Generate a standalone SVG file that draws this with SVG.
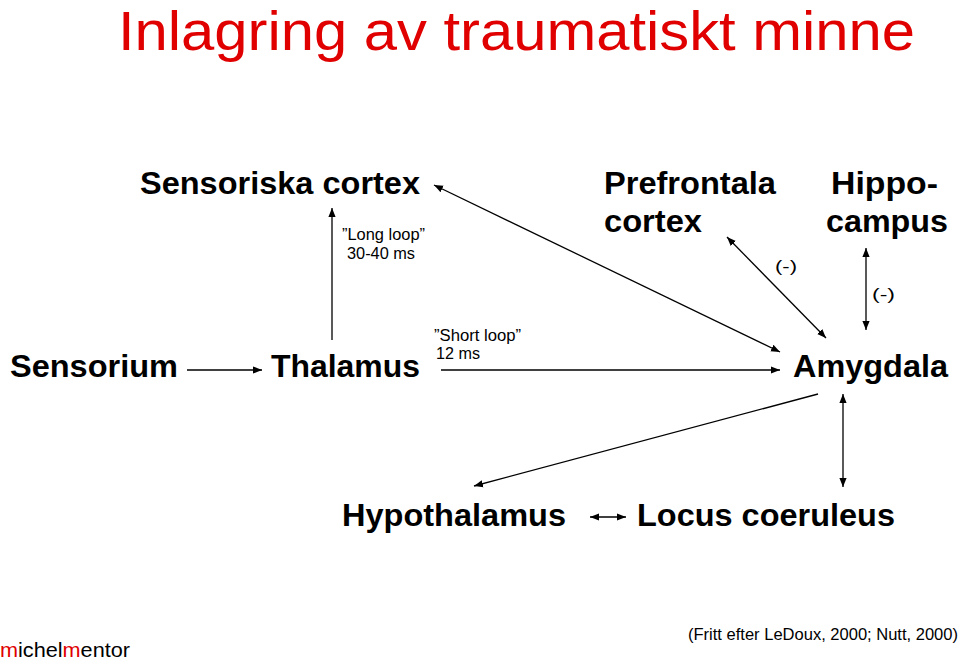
<svg xmlns="http://www.w3.org/2000/svg" width="960" height="660" viewBox="0 0 960 660">
<style>
text{font-family:"Liberation Sans",Arial,sans-serif;fill:#000}
.n{font-size:31px;font-weight:bold}
.s{font-size:16px}
.c line{stroke:#000;stroke-width:1.3}
</style>
<defs>
<marker id="a" viewBox="0 0 10 10" refX="10" refY="5" markerWidth="9" markerHeight="9" orient="auto-start-reverse" markerUnits="userSpaceOnUse"><path d="M0,1 L10,5 L0,9z" fill="#000"/></marker>
</defs>
<rect width="960" height="660" fill="#fff"/>
<text x="118" y="50" font-size="56" textLength="797" lengthAdjust="spacingAndGlyphs" style="fill:#e00000">Inlagring av traumatiskt minne</text>
<g id="sensoriska"><text class="n" x="140" y="194" textLength="280" lengthAdjust="spacingAndGlyphs">Sensoriska cortex</text></g>
<g id="prefrontala"><text class="n" x="604" y="194" textLength="172" lengthAdjust="spacingAndGlyphs">Prefrontala</text><text class="n" x="604" y="232" textLength="98" lengthAdjust="spacingAndGlyphs">cortex</text></g>
<g id="hippocampus"><text class="n" x="831" y="194" textLength="107" lengthAdjust="spacingAndGlyphs">Hippo-</text><text class="n" x="826" y="232" textLength="122" lengthAdjust="spacingAndGlyphs">campus</text></g>
<g id="sensorium"><text class="n" x="10" y="377" textLength="168" lengthAdjust="spacingAndGlyphs">Sensorium</text></g>
<g id="thalamus"><text class="n" x="271" y="377" textLength="149" lengthAdjust="spacingAndGlyphs">Thalamus</text></g>
<g id="amygdala"><text class="n" x="793" y="377" textLength="155" lengthAdjust="spacingAndGlyphs">Amygdala</text></g>
<g id="hypothalamus"><text class="n" x="342" y="526" textLength="224" lengthAdjust="spacingAndGlyphs">Hypothalamus</text></g>
<g id="locus"><text class="n" x="637" y="526" textLength="258" lengthAdjust="spacingAndGlyphs">Locus coeruleus</text></g>
<g id="labels">
<text class="s" x="342" y="240" textLength="83" lengthAdjust="spacingAndGlyphs">”Long loop”</text><text class="s" x="347" y="259" textLength="68" lengthAdjust="spacingAndGlyphs">30-40 ms</text>
<text class="s" x="434" y="341" textLength="87" lengthAdjust="spacingAndGlyphs">”Short loop”</text><text class="s" x="436" y="359" textLength="44" lengthAdjust="spacingAndGlyphs">12 ms</text>
<text class="s" x="775" y="272" textLength="22" lengthAdjust="spacingAndGlyphs">(-)</text>
<text class="s" x="872" y="300" textLength="23" lengthAdjust="spacingAndGlyphs">(-)</text>
</g>
<g class="c">
<line x1="187" y1="370" x2="262" y2="370" marker-end="url(#a)"/>
<line x1="332" y1="340" x2="332" y2="208" marker-end="url(#a)"/>
<line x1="441" y1="370" x2="780" y2="370" marker-end="url(#a)"/>
<line x1="434" y1="185" x2="780" y2="352" marker-start="url(#a)" marker-end="url(#a)"/>
<line x1="727" y1="237" x2="826" y2="338" marker-start="url(#a)" marker-end="url(#a)"/>
<line x1="866" y1="248" x2="866" y2="330" marker-start="url(#a)" marker-end="url(#a)"/>
<line x1="818" y1="394" x2="474" y2="486" marker-end="url(#a)"/>
<line x1="843" y1="394" x2="843" y2="487" marker-start="url(#a)" marker-end="url(#a)"/>
<line x1="590" y1="517" x2="626" y2="517" marker-start="url(#a)" marker-end="url(#a)"/>
</g>
<text x="0" y="657" font-size="20" textLength="130" lengthAdjust="spacingAndGlyphs"><tspan style="fill:#e00000">m</tspan>ichel<tspan style="fill:#e00000">m</tspan>entor</text>
<text x="688" y="640" font-size="16" textLength="270" lengthAdjust="spacingAndGlyphs">(Fritt efter  LeDoux, 2000; Nutt, 2000)</text>
</svg>
